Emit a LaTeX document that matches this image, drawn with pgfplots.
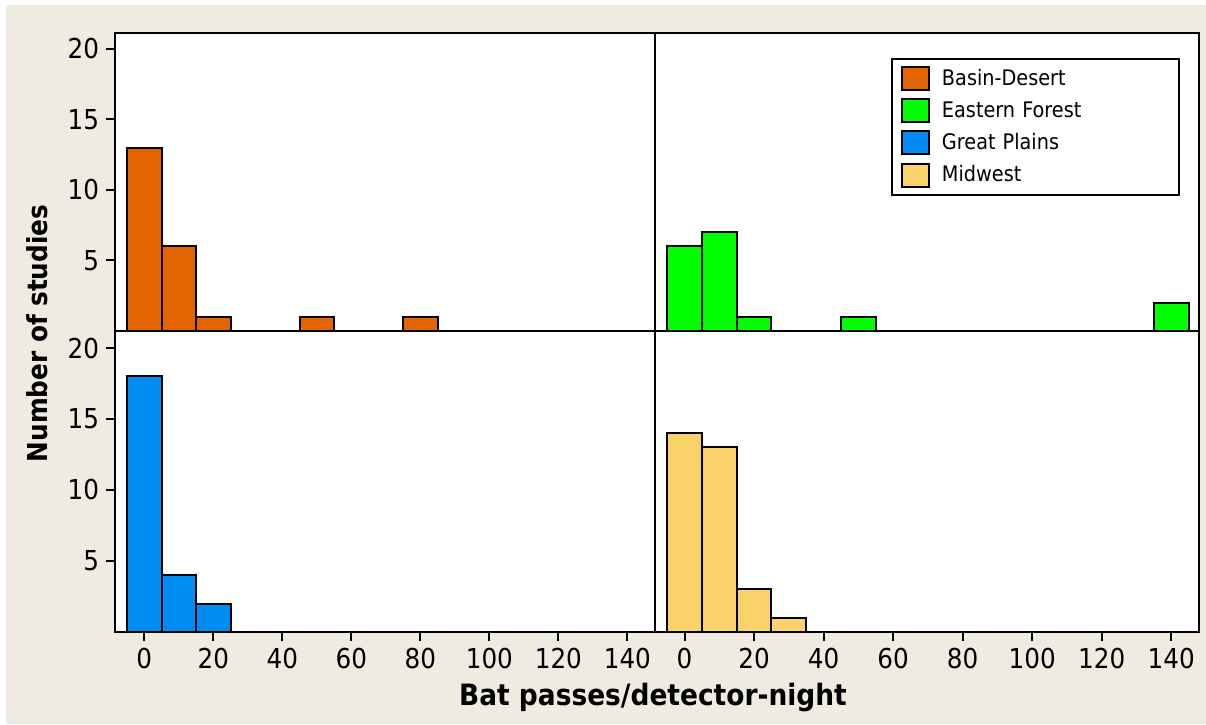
\documentclass[border=0pt]{standalone}
\usepackage{pgfplots}
\pgfplotsset{compat=1.18}
\usepackage{fontspec}
\setmainfont{DejaVu Sans Condensed}
\definecolor{cOr}{RGB}{228,100,0}
\definecolor{cGr}{RGB}{0,255,0}
\definecolor{cBl}{RGB}{0,140,240}
\definecolor{cYe}{RGB}{249,211,106}
\definecolor{bg}{RGB}{239,235,224}
\pgfplotsset{
  panel/.style={
    scale only axis, xmin=-8.5, xmax=148, ymin=0,
    axis background/.style={fill=white},
    axis line style={line width=1bp, black},
    tick style={line width=1bp, black},
    tick align=outside, major tick length=4.5bp,
    tick pos=left,
    ybar, bar width=10, bar shift=0pt,
    tick label style={font=\fontsize{13.75}{15}\selectfont},
    /pgf/number format/assume math mode=true,
    every axis plot/.append style={draw=black, line width=1bp},
  },
}
\begin{document}
\begin{tikzpicture}[x=1bp,y=1bp]
\fill[white] (0,0) rectangle (603,362);
\fill[bg] (3,0) rectangle (603,359.5);
% top-left: Basin-Desert
\begin{axis}[panel, at={(57.5bp,196.5bp)}, anchor=south west, width=270bp, height=149bp,
  ymax=21.13, xtick=\empty, ytick={5,10,15,20}]
\addplot[fill=cOr] coordinates {(0,13) (10,6) (20,1) (50,1) (80,1)};
\end{axis}
% top-right: Eastern Forest
\begin{axis}[panel, at={(327.5bp,196.5bp)}, anchor=south west, width=272bp, height=149bp,
  ymax=21.13, xtick=\empty, ytick=\empty,
  legend style={at={(0.965,0.916)}, anchor=north east, draw=black, line width=1bp,
    font=\fontsize{10.75}{12}\selectfont, row sep=2.6bp, inner xsep=4.5bp, inner ysep=3bp,
    nodes={text width=108bp, align=left, inner xsep=6bp}},
  legend cell align=left]
\addlegendimage{legend image code/.code={\draw[fill=cOr,draw=black,line width=1bp] (0bp,-5.75bp) rectangle (13.5bp,5.75bp);}}
\addlegendentry{Basin-Desert}
\addlegendimage{legend image code/.code={\draw[fill=cGr,draw=black,line width=1bp] (0bp,-5.75bp) rectangle (13.5bp,5.75bp);}}
\addlegendentry{Eastern Forest}
\addlegendimage{legend image code/.code={\draw[fill=cBl,draw=black,line width=1bp] (0bp,-5.75bp) rectangle (13.5bp,5.75bp);}}
\addlegendentry{Great Plains}
\addlegendimage{legend image code/.code={\draw[fill=cYe,draw=black,line width=1bp] (0bp,-5.75bp) rectangle (13.5bp,5.75bp);}}
\addlegendentry{Midwest}
\addplot[fill=cGr, forget plot] coordinates {(0,6) (10,7) (20,1) (50,1) (140,2)};
\end{axis}
% bottom-left: Great Plains
\begin{axis}[panel, at={(57.5bp,46bp)}, anchor=south west, width=270bp, height=150.5bp,
  ymax=21.2, xtick={0,20,...,140}, ytick={5,10,15,20}]
\addplot[fill=cBl] coordinates {(0,18) (10,4) (20,2)};
\end{axis}
% bottom-right: Midwest
\begin{axis}[panel, at={(327.5bp,46bp)}, anchor=south west, width=272bp, height=150.5bp,
  ymax=21.2, xtick={0,20,...,140}, ytick=\empty]
\addplot[fill=cYe] coordinates {(0,14) (10,13) (20,3) (30,1)};
\end{axis}
\node[anchor=base, font=\bfseries\fontsize{14.75}{16}\selectfont] at (326.5,9.5) {Bat passes/detector-night};
\node[anchor=base, rotate=90, font=\bfseries\fontsize{13.8}{15}\selectfont] at (23.5,195.25) {Number of studies};
\end{tikzpicture}
\end{document}
